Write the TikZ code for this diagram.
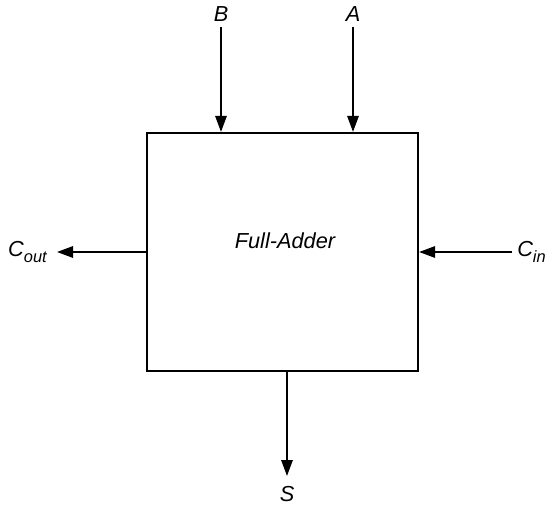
\documentclass[tikz,border=0pt]{standalone}
\usepackage{fontspec}
\setmainfont{Liberation Sans}
\usetikzlibrary{arrows.meta}
\newcommand{\subtxt}[1]{\raisebox{-0.3em}{\fontsize{12.3}{14}\selectfont #1}}
\begin{document}
\begin{tikzpicture}[x=0.75pt,y=-0.75pt,
  lbl/.style={font=\fontsize{16.3}{19}\selectfont\itshape, inner sep=0pt},
  sig/.style={line width=1.5pt, -{Triangle[length=12pt,width=8.5pt]}},
  blk/.style={draw, line width=1.6pt, minimum width=271*0.75pt, minimum height=238*0.75pt, inner sep=0pt}]
\useasboundingbox (0,0) rectangle (545,506);
\node[blk] (fa) at (282.5,252) {};
\node[lbl] (fal) at (285,241) {Full-Adder};
\node[lbl] (B) at (221,14) {B};
\node[lbl] (A) at (353,14) {A};
\node[lbl] (S) at (287,494) {S};
\node[lbl, anchor=east] (Cout) at (47,252) {C\subtxt{out}};
\node[lbl, anchor=west] (Cin) at (517,252) {C\subtxt{in}};
\coordinate (bs) at (221,27);
\coordinate (as) at (353,27);
\coordinate (coe) at (57,252);
\coordinate (cis) at (512,252);
\coordinate (se) at (287,476);
\draw[sig] (bs) -- (bs |- fa.north);
\draw[sig] (as) -- (as |- fa.north);
\draw[sig] (fa.west) -- (coe);
\draw[sig] (cis) -- (fa.east);
\draw[sig] (se |- fa.south) -- (se);
\end{tikzpicture}
\end{document}
